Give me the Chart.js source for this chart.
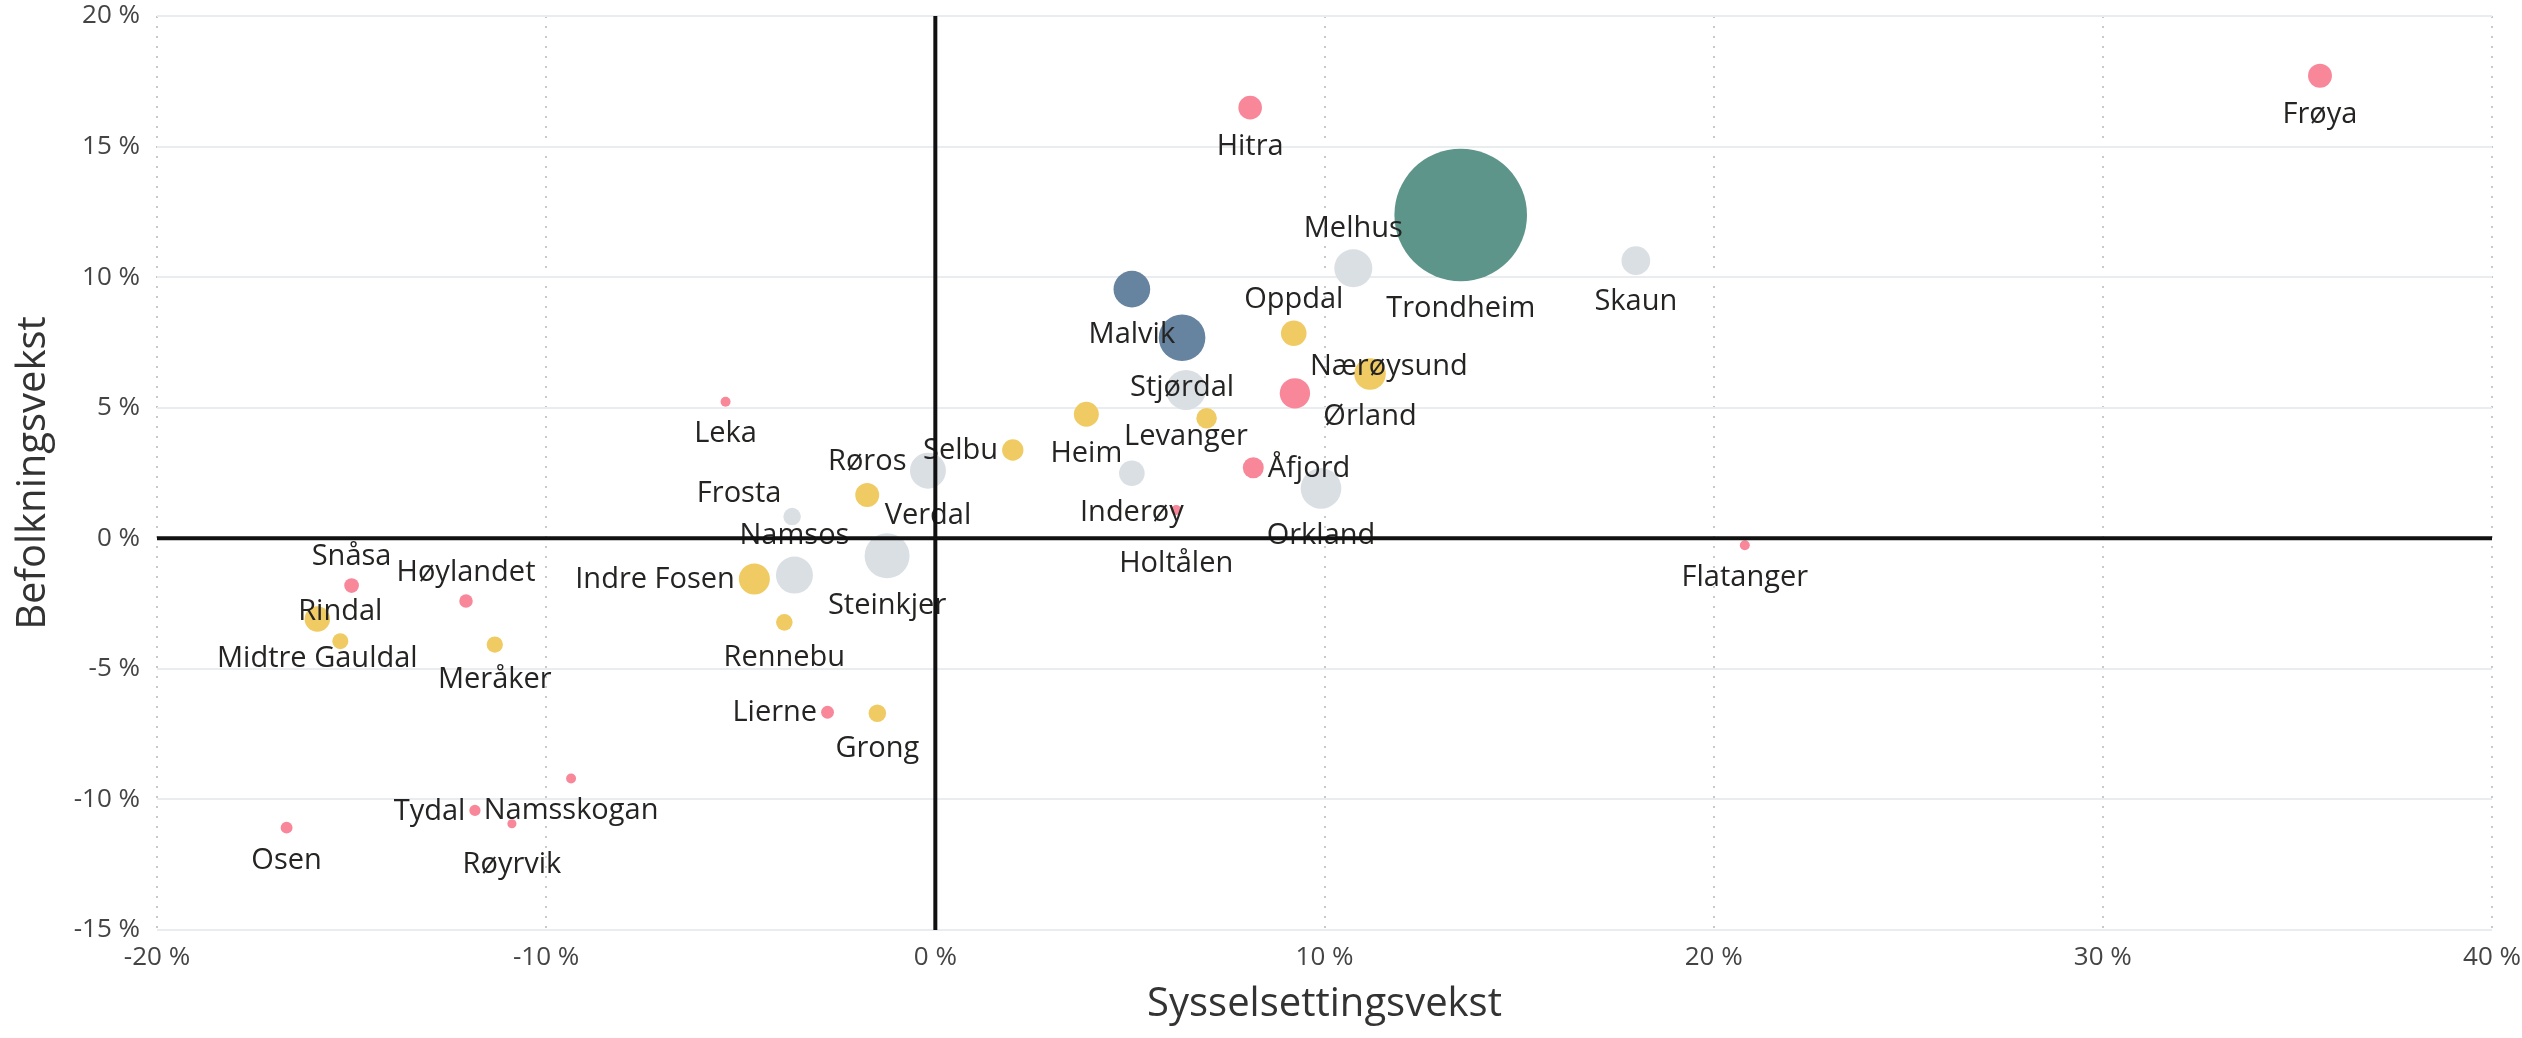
<!DOCTYPE html>
<html>
<head>
<meta charset="utf-8">
<script src="https://cdn.jsdelivr.net/npm/chart.js@4"></script>
<style>
  html, body { margin: 0; padding: 0; background: #fff; }
  #wrap { width: 2522px; height: 1038px; }
</style>
</head>
<body>
<div id="wrap"><canvas id="myBubbleChart" width="2522" height="1038"></canvas></div>
<script>
// Trøndelag-kommuner: sysselsettingsvekst (x) og befolkningsvekst (y), i prosent
const kommuner = ['Trondheim', 'Melhus', 'Skaun', 'Hitra', 'Frøya', 'Malvik', 'Stjørdal', 'Levanger',
    'Oppdal', 'Ørland', 'Nærøysund', 'Overhalla', 'Heim', 'Selbu', 'Inderøy', 'Holtålen', 'Åfjord',
    'Orkland', 'Verdal', 'Røros', 'Frosta', 'Namsos', 'Steinkjer', 'Indre Fosen', 'Rennebu', 'Lierne',
    'Grong', 'Leka', 'Flatanger', 'Snåsa', 'Høylandet', 'Midtre Gauldal', 'Rindal', 'Meråker', 'Osen',
    'Tydal', 'Namsskogan', 'Røyrvik'];
const sysselsettingsvekst = [13.5, 10.74, 18.0, 8.09, 35.58, 5.05, 6.34, 6.44,
    9.21, 11.17, 9.24, 6.97, 3.88, 1.99, 5.05, 6.19, 8.17,
    9.91, -0.19, -1.75, -3.68, -3.62, -1.24, -4.65, -3.88, -2.77,
    -1.49, -5.39, 20.8, -15.0, -12.06, -15.88, -15.29, -11.32, -16.67,
    -11.83, -9.36, -10.88];
const befolkningsvekst = [12.38, 10.34, 10.63, 16.49, 17.71, 9.54, 7.68, 5.68,
    7.85, 6.29, 5.55, 4.6, 4.75, 3.38, 2.49, 1.08, 2.7,
    1.91, 2.59, 1.66, 0.83, -1.41, -0.67, -1.56, -3.22, -6.66,
    -6.7, 5.23, -0.27, -1.81, -2.4, -3.09, -3.94, -4.07, -11.08,
    -10.42, -9.2, -10.93];
// folketall i tusen (boblestørrelse)
const folketall = [212, 17.4, 9.9, 6.7, 6.9, 16.2, 26.2, 19.3,
    7.9, 12.0, 11.1, 5.1, 7.5, 5.5, 7.9, 1.2, 5.3,
    19.9, 15.6, 6.9, 3.7, 16.5, 24.4, 11.6, 3.3, 2.0,
    3.7, 1.2, 1.2, 2.6, 2.2, 7.8, 3.1, 3.2, 1.7,
    1.5, 1.2, 1.0];
// sentralitetsklasse
const sentralitet = [2, 4, 4, 6, 6, 3, 3, 4,
    5, 5, 6, 5, 5, 5, 4, 6, 6,
    4, 4, 5, 4, 4, 4, 5, 5, 6,
    5, 6, 6, 6, 6, 5, 5, 5, 6,
    6, 6, 6];
const xTicks = [-20, -10, 0, 10, 20, 30, 40];
const yTicks = [-15, -10, -5, 0, 5, 10, 15, 20];

const colours = { 2: '#5E958B', 3: '#6683A0', 4: '#DADFE4', 5: '#F0CB63', 6: '#F8879A' };

// where each name goes: b below, a above, l left, r right, [dx, dy] fixed offset
const labelPos = ['b', 'a', 'b', 'b', 'b', 'b', 'b', 'b',
    'a', 'b', [94, -28], null, 'b', 'l', 'b', [0, 53], 'r',
    'b', 'b', 'a', [-53, -24], 'a', 'b', 'l', 'b', 'l',
    'b', 'b', 'b', 'a', 'a', 'b', 'a', 'b', 'b',
    'l', 'b', [0, 40]];

const FONT = '"Open Sans", "Noto Sans", sans-serif';

const labelPlugin = {
    id: 'kommuneLabels',
    afterDatasetsDraw(chart) {
        const ctx = chart.ctx;
        const meta = chart.getDatasetMeta(0);
        ctx.save();
        ctx.font = '29px ' + FONT;
        ctx.fillStyle = '#252423';
        ctx.textBaseline = 'middle';
        meta.data.forEach((el, i) => {
            const pos = labelPos[i];
            if (!pos) return;
            const r = el.options.radius;
            let x = el.x, y = el.y, align = 'center';
            if (pos === 'b') y += r + 26;
            else if (pos === 'a') y -= r + 22;
            else if (pos === 'l') { x -= r + 4; align = 'right'; }
            else if (pos === 'r') { x += r + 4; align = 'left'; }
            else { x += pos[0]; y += pos[1]; }
            ctx.textAlign = align;
            ctx.fillText(kommuner[i], x, y + 1);
        });

        // zero lines on top
        const area = chart.chartArea;
        const x0 = chart.scales.x.getPixelForValue(0);
        const y0 = chart.scales.y.getPixelForValue(0);
        ctx.strokeStyle = '#111';
        ctx.lineWidth = 4;
        ctx.beginPath();
        ctx.moveTo(area.left, y0);
        ctx.lineTo(area.right, y0);
        ctx.moveTo(x0, area.top);
        ctx.lineTo(x0, area.bottom);
        ctx.stroke();
        ctx.restore();
    }
};

document.addEventListener('DOMContentLoaded', () => {
    const points = kommuner.map((k, i) => ({
        x: sysselsettingsvekst[i],
        y: befolkningsvekst[i],
        r: 66.3 * Math.sqrt(folketall[i] / 212)
    }));

    new Chart('myBubbleChart', {
        type: 'bubble',
        data: {
            labels: kommuner,
            datasets: [{
                data: points,
                backgroundColor: sentralitet.map(s => colours[s]),
                borderWidth: 0,
                hoverBorderWidth: 0
            }]
        },
        plugins: [labelPlugin],
        options: {
            responsive: false,
            animation: false,
            devicePixelRatio: 1,
            layout: { autoPadding: false, padding: 0 },
            plugins: {
                legend: { display: false },
                tooltip: { enabled: false }
            },
            scales: {
                x: {
                    type: 'linear',
                    min: -20,
                    max: 40,
                    afterBuildTicks: (scale) => { scale.ticks = xTicks.map(v => ({ value: v })); },
                    afterFit: (scale) => {
                        scale.height = 108;
                        scale.paddingLeft = 0;
                        scale.paddingRight = 30;
                    },
                    grid: { color: '#C9C9C9', lineWidth: 2, drawTicks: false },
                    border: { display: false, dash: [2, 8] },
                    ticks: {
                        padding: 12,
                        color: '#444',
                        font: { family: FONT, size: 26 },
                        callback: (v) => v + ' %'
                    },
                    title: {
                        display: true,
                        text: 'Sysselsettingsvekst',
                        color: '#333',
                        font: { family: FONT, size: 40 },
                        padding: { top: 0, bottom: 9 }
                    }
                },
                y: {
                    type: 'linear',
                    min: -15,
                    max: 20,
                    afterBuildTicks: (scale) => { scale.ticks = yTicks.map(v => ({ value: v })); },
                    afterFit: (scale) => {
                        scale.width = 157;
                        scale.paddingTop = 16;
                        scale.paddingBottom = 0;
                    },
                    grid: { color: '#EAEDF0', lineWidth: 2, drawTicks: false },
                    border: { display: false },
                    ticks: {
                        padding: 17,
                        color: '#444',
                        font: { family: FONT, size: 26 },
                        callback: (v) => v + ' %'
                    },
                    title: {
                        display: true,
                        text: 'Befolkningsvekst',
                        color: '#333',
                        font: { family: FONT, size: 40 },
                        padding: { top: 10, bottom: 0 }
                    }
                }
            }
        }
    });
});
</script>
</body>
</html>
